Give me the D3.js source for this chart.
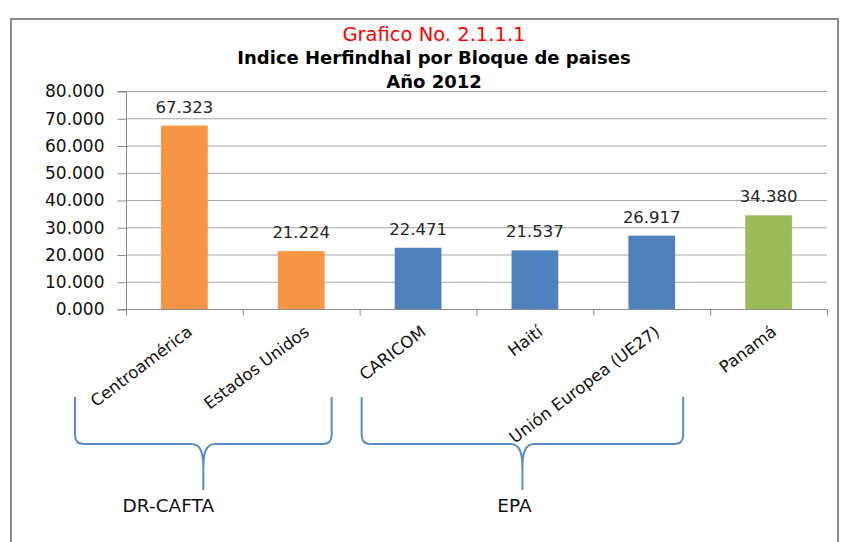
<!DOCTYPE html>
<html>
<head>
<meta charset="utf-8">
<script src="https://cdn.jsdelivr.net/npm/d3@7"></script>
<style>
  body { margin: 0; background: #fff; }
  text { font-family: "DejaVu Sans", sans-serif; }
</style>
</head>
<body>
<div id="chart"></div>
<script>
var width = 843;
var height = 542;

var categories = ["Centroamérica", "Estados Unidos", "CARICOM", "Haití", "Unión Europea (UE27)", "Panamá"];
var values = [67.323, 21.224, 22.471, 21.537, 26.917, 34.380];
var barColors = ["#F79646", "#F79646", "#4F81BD", "#4F81BD", "#4F81BD", "#9BBB59"];
var yTicks = [0, 10, 20, 30, 40, 50, 60, 70, 80];

var groupNames = ["DR-CAFTA", "EPA"];
var groupFirst = ["Centroamérica", "CARICOM"];
var groupLast = ["Estados Unidos", "Unión Europea (UE27)"];

var titles = ["Grafico No. 2.1.1.1", "Indice Herfindhal por Bloque de paises", "Año 2012"];

var plot = { left: 126, right: 827, top: 91, bottom: 309 };

var svg = d3.select("#chart")
  .append("svg")
  .attr("width", width)
  .attr("height", height);

// outer frame (bottom runs off the picture)
svg.append("rect")
  .attr("x", 11).attr("y", 19)
  .attr("width", 827).attr("height", 560)
  .attr("fill", "none")
  .attr("stroke", "#8c8c8c")
  .attr("stroke-width", 2);

var x = d3.scaleBand()
  .domain(categories)
  .range([plot.left, plot.right])
  .padding(0);

var y = d3.scaleLinear()
  .domain([0, 80])
  .range([plot.bottom, plot.top]);

// titles
svg.append("text")
  .attr("x", 434).attr("y", 41)
  .attr("text-anchor", "middle")
  .style("font-size", "19.5px")
  .attr("fill", "#FF0000")
  .text(titles[0]);

svg.selectAll(".subtitle")
  .data(titles.slice(1))
  .enter().append("text")
  .attr("class", "subtitle")
  .attr("x", 434)
  .attr("y", function(d, i) { return 64 + i * 24; })
  .attr("text-anchor", "middle")
  .style("font-size", "18px")
  .style("font-weight", "bold")
  .attr("fill", "#000")
  .text(function(d) { return d; });

// gridlines
svg.append("g")
  .selectAll("line")
  .data(yTicks.slice(1))
  .enter().append("line")
  .attr("x1", plot.left).attr("x2", plot.right)
  .attr("y1", function(d) { return y(d) + 0.5; })
  .attr("y2", function(d) { return y(d) + 0.5; })
  .attr("stroke", "#a6a6a6")
  .attr("stroke-width", 1);

// y axis
var yAxis = svg.append("g")
  .attr("transform", "translate(" + (plot.left + 0.5) + ",0.5)")
  .call(d3.axisLeft(y).tickValues(yTicks).tickSize(9).tickPadding(13).tickFormat(d3.format(".3f")));
yAxis.select(".domain").attr("stroke", "#8c8c8c").attr("d", "M-9," + y(80) + "H0V" + y(0) + "H-9");
yAxis.selectAll(".tick line").attr("stroke", "#8c8c8c");
yAxis.selectAll(".tick text")
  .style("font-size", "17px")
  .style("font-family", "DejaVu Sans")
  .attr("fill", "#111");

// x axis line and band ticks
var xAxis = svg.append("g").attr("transform", "translate(0," + (plot.bottom + 0.5) + ")");
xAxis.append("line")
  .attr("x1", plot.left).attr("x2", plot.right)
  .attr("stroke", "#8c8c8c");
xAxis.selectAll(".bt")
  .data(categories.concat(["end"]))
  .enter().append("line")
  .attr("class", "bt")
  .attr("x1", function(d, i) { return (i < categories.length ? x(d) : plot.right) + 0.5; })
  .attr("x2", function(d, i) { return (i < categories.length ? x(d) : plot.right) + 0.5; })
  .attr("y1", 0).attr("y2", 6)
  .attr("stroke", "#8c8c8c");

// bars
var barW = x.bandwidth() * 0.4;
svg.append("g")
  .selectAll("rect")
  .data(values)
  .enter().append("rect")
  .attr("x", function(d, i) { return x(categories[i]) + (x.bandwidth() - barW) / 2; })
  .attr("y", function(d) { return y(d); })
  .attr("width", barW)
  .attr("height", function(d) { return y(0) - y(d); })
  .attr("fill", function(d, i) { return barColors[i]; });

// value labels
svg.append("g")
  .selectAll("text")
  .data(values)
  .enter().append("text")
  .attr("x", function(d, i) { return x(categories[i]) + x.bandwidth() / 2; })
  .attr("y", function(d) { return y(d) - 13; })
  .attr("text-anchor", "middle")
  .style("font-size", "16.5px")
  .attr("fill", "#262626")
  .text(function(d) { return d3.format(".3f")(d); });

// category labels, slanted
svg.append("g")
  .selectAll("text")
  .data(categories)
  .enter().append("text")
  .attr("transform", function(d) {
    return "translate(" + (x(d) + x.bandwidth() / 2 + 9) + ",334) rotate(-37)";
  })
  .attr("text-anchor", "end")
  .style("font-size", "16.5px")
  .attr("fill", "#111")
  .text(function(d) { return d; });

// group braces
var braceTop = 397, braceMid = 444, braceTip = 490;
var leftPad = [-51, 2];
var rightPad = [-28, -27];

function bracePath(L, R) {
  var C = (L + R) / 2, r = 9;
  return "M" + L + "," + braceTop +
    "L" + L + "," + (braceMid - r) +
    "Q" + L + "," + braceMid + " " + (L + r) + "," + braceMid +
    "L" + (C - 12) + "," + braceMid +
    "C" + (C - 3) + "," + braceMid + " " + C + "," + (braceMid + 8) + " " + C + "," + (braceMid + 24) +
    "L" + C + "," + braceTip +
    "M" + C + "," + (braceMid + 24) +
    "C" + C + "," + (braceMid + 8) + " " + (C + 3) + "," + braceMid + " " + (C + 12) + "," + braceMid +
    "L" + (R - r) + "," + braceMid +
    "Q" + R + "," + braceMid + " " + R + "," + (braceMid - r) +
    "L" + R + "," + braceTop;
}

var braces = svg.append("g");
groupNames.forEach(function(name, i) {
  var L = x(groupFirst[i]) + leftPad[i];
  var R = x(groupLast[i]) + x.bandwidth() + rightPad[i];
  braces.append("path")
    .attr("d", bracePath(L, R))
    .attr("fill", "none")
    .attr("stroke", "#5B8BC8")
    .attr("stroke-width", 2);
  braces.append("text")
    .attr("x", (L + R) / 2 - (i === 0 ? 35 : 8))
    .attr("y", 512)
    .attr("text-anchor", "middle")
    .style("font-size", "18.5px")
    .attr("fill", "#111")
    .text(name);
});
</script>
</body>
</html>
